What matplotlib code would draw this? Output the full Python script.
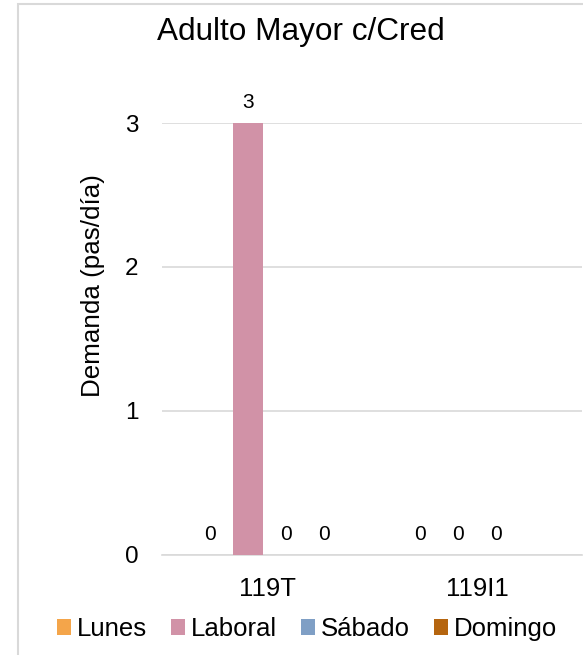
import numpy as np
import matplotlib.pyplot as plt
from matplotlib.patches import Rectangle

plt.rcParams["font.family"] = ["Liberation Sans", "DejaVu Sans"]

categories = ["119T", "119I1"]
series_names = ["Lunes", "Laboral", "Sábado", "Domingo"]
lunes = [0, 0]
laboral = [3, 0]
sabado = [0, 0]
domingo = [0, np.nan]
series_values = [lunes, laboral, sabado, domingo]
colors = ["#F4A54A", "#D192A7", "#7F9FC5", "#B5650F"]
y_ticks = [0, 1, 2, 3]

fig = plt.figure(figsize=(5.83, 6.55), dpi=100)
ax = fig.add_axes([0.278, 0.1527, 0.72, 0.6595])

x = np.arange(len(categories))
step = 0.181
width = 0.143
for i, (name, vals, color) in enumerate(zip(series_names, series_values, colors)):
    pos = x + (i - 1.5) * step
    vals = np.array(vals, dtype=float)
    ax.bar(pos, np.nan_to_num(vals), width, color=color, label=name, zorder=3)
    for p, v in zip(pos, vals):
        if np.isnan(v):
            continue
        ax.annotate(f"{v:.0f}", (p, v), xytext=(0, 8), textcoords="offset points",
                    ha="center", va="bottom", fontsize=15)

ax.set_xlim(-0.5, 1.5)
ax.set_ylim(0, 3)
ax.set_yticks(y_ticks)
ax.set_xticks(x)
ax.set_xticklabels(categories)
ax.tick_params(axis="y", length=0, labelsize=17.5, pad=17)
ax.tick_params(axis="x", length=0, labelsize=18.5, pad=16)
ax.grid(axis="y", color="#D9D9D9", linewidth=1.2, zorder=0)
for side in ["top", "right", "left"]:
    ax.spines[side].set_visible(False)
ax.spines["bottom"].set_color("#D9D9D9")
ax.spines["bottom"].set_linewidth(1.2)

fig.text(93 / 583, 1 - 286 / 655, "Demanda (pas/día)", rotation=90,
         ha="center", va="center", fontsize=18.7)
fig.text(301 / 583, 1 - 40 / 655, "Adulto Mayor c/Cred", ha="center", va="baseline",
         fontsize=22.7)

fig.legend(loc="center", bbox_to_anchor=(307 / 583, 1 - 629 / 655), ncol=4, frameon=False,
           fontsize=18.5, handlelength=0.55, handleheight=0.55, handletextpad=0.23,
           columnspacing=0.93, borderpad=0, borderaxespad=0)

# chart frame, cut off at the right and bottom of the picture
fig.patches.append(Rectangle((18 / 583, -0.5), 1.2, 1.5 - 4 / 655, transform=fig.transFigure,
                             fill=False, edgecolor="#D9D9D9", linewidth=1.5))

fig.savefig("out.png", dpi=100)
